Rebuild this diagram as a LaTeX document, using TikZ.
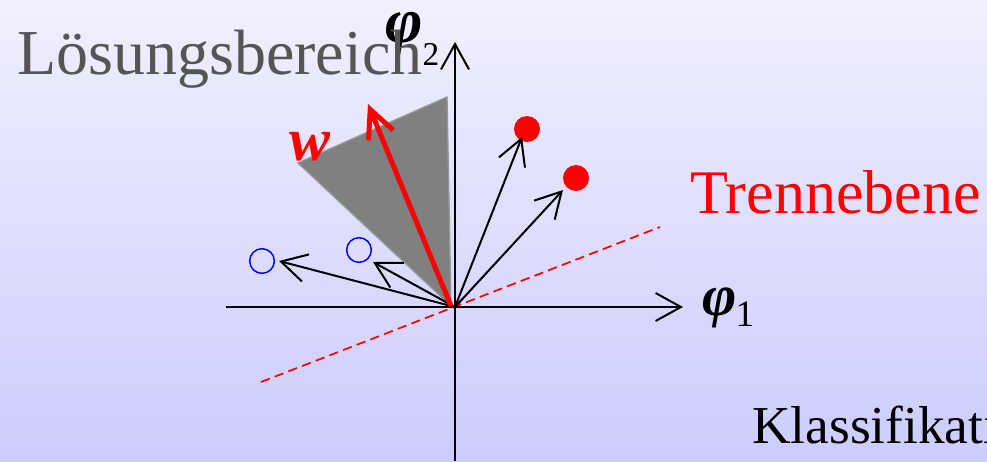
\documentclass[tikz,border=0pt]{standalone}
\usepackage{fontspec}
\setmainfont{Liberation Serif}
\usetikzlibrary{arrows.meta}

\begin{document}
\begin{tikzpicture}[x=0.75pt, y=-0.75pt,
  vec/.style={line width=1.5pt, -{Straight Barb[length=19pt,width=21pt]}},
  phi/.style={inner sep=0pt, font=\fontsize{44}{44}\selectfont\bfseries\itshape},
  sub/.style={inner sep=0pt, font=\fontsize{28}{28}\selectfont},
  big/.style={inner sep=0pt, anchor=base west, font=\fontsize{46.5}{50}\selectfont}]
\clip (0,0) rectangle (987,461);
\shade[top color={rgb,255:red,240;green,240;blue,253}, bottom color={rgb,255:red,204;green,204;blue,255}] (0,0) rectangle (987,461);

\coordinate (O) at (455,307);
% Loesungsbereich
\fill[gray, draw={rgb,255:red,150;green,150;blue,150}, line width=1pt] (447,97) -- (298,163) -- (451,306) -- cycle;

% axes
\coordinate (xl) at (226,307); \coordinate (xr) at (683,307);
\coordinate (yb) at (455,461); \coordinate (yt) at (455,42);
\draw[vec] (xl) -- (xr);
\draw[vec] (yb) -- (yt);
\node[phi] (phix) at (720,308) {φ};
\node[sub] (phixsub) at (745,314) {1};
\node[phi, font=\fontsize{48}{48}\selectfont\bfseries\itshape] (phiy) at (404,34) {φ};
\node[sub, font=\fontsize{25}{25}\selectfont] (phiysub) at (431,54) {2};

% Trennebene
\coordinate (t1) at (261,382); \coordinate (t2) at (660,227);
\draw[red, line width=1.3pt, dash pattern=on 7pt off 4pt] (t1) -- (t2);

% samples
\node[circle, draw=blue, line width=1.1pt, inner sep=0pt, minimum size=18.5pt] (b1) at (262,261) {};
\node[circle, draw=blue, line width=1.1pt, inner sep=0pt, minimum size=18.5pt] (b2) at (359,250) {};
\node[circle, fill=red, inner sep=0pt, minimum size=19.5pt] (r1) at (527,129) {};
\node[circle, fill=red, inner sep=0pt, minimum size=19.5pt] (r2) at (576,178) {};
\coordinate (tb1) at (279,261); \coordinate (tb2) at (373,262);
\coordinate (tr1) at (522,137); \coordinate (tr2) at (563,190);
\draw[vec] (O) -- (tb1);
\draw[vec] (O) -- (tb2);
\draw[vec] (O) -- (tr1);
\draw[vec] (O) -- (tr2);

% w
\coordinate (w) at (368,104);
\draw[red, line width=3.75pt, -{Straight Barb[length=21pt,width=20pt]}] (451,306) -- (w);
\node[inner sep=0pt, red, font=\fontsize{46}{46}\selectfont\bfseries\itshape] (wlbl) at (310,147) {w};

% texts
\node[big, font=\fontsize{48}{52}\selectfont, text={rgb,255:red,85;green,85;blue,85}] (loesung) at (17,74) {Lösungsbereich};
\node[big, text=red] (trenn) at (690,213) {Trennebene};
\node[big, font=\fontsize{40}{44}\selectfont] (klass) at (752,443) {Klassifikati};
\end{tikzpicture}
\end{document}
